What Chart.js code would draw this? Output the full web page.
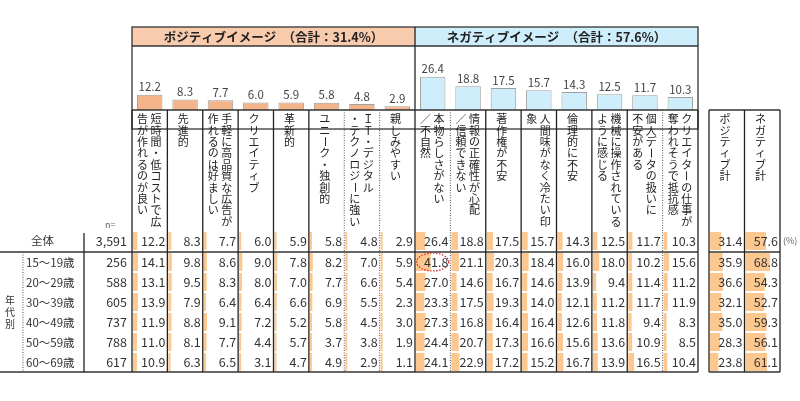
<!DOCTYPE html>
<html><head><meta charset="utf-8">
<script src="https://cdn.jsdelivr.net/npm/chart.js@4.4.0/dist/chart.umd.min.js"></script>
<style>html,body{margin:0;background:#fff}#wrap{width:800px;height:401px;position:relative}</style>
</head><body><div id="wrap"><canvas id="c"></canvas></div>
<script>
// column labels (vertical text, right line first)
var posLabels = [['短時間・低コストで広','告が作れるのが良い'], ['先進的'], ['手軽に高品質な広告が','作れるのは好ましい'], ['クリエイティブ'], ['革新的'], ['ユニーク・独創的'], ['ＩＴ・デジタル','・テクノロジーに強い'], ['親しみやすい']];
var negLabels = [['本物らしさがない','／不自然'], ['情報の正確性が心配','／信頼できない'], ['著作権が不安'], ['人間味がなく冷たい印','象'], ['倫理的に不安'], ['機械に操作されている','ように感じる'], ['個人データの扱いに','不安がある'], ['クリエイターの仕事が','奪われそうで抵抗感']];
var totalLabels = [['ポジティブ計'], ['ネガティブ計']];
var overall = [12.2, 8.3, 7.7, 6.0, 5.9, 5.8, 4.8, 2.9, 26.4, 18.8, 17.5, 15.7, 14.3, 12.5, 11.7, 10.3];
var overallTotals = [31.4, 57.6];
var overallN = '3,591';
var ageGroups = ['15～19歳', '20～29歳', '30～39歳', '40～49歳', '50～59歳', '60～69歳'];
var ageN = ['256', '588', '605', '737', '788', '617'];
var ageValues = [
  [14.1, 9.8, 8.6, 9.0, 7.8, 8.2, 7.0, 5.9, 41.8, 21.1, 20.3, 18.4, 16.0, 18.0, 10.2, 15.6],
  [13.1, 9.5, 8.3, 8.0, 7.0, 7.7, 6.6, 5.4, 27.0, 14.6, 16.7, 14.6, 13.9, 9.4, 11.4, 11.2],
  [13.9, 7.9, 6.4, 6.4, 6.6, 6.9, 5.5, 2.3, 23.3, 17.5, 19.3, 14.0, 12.1, 11.2, 11.7, 11.9],
  [11.9, 8.8, 9.1, 7.2, 5.2, 5.8, 4.5, 3.0, 27.3, 16.8, 16.4, 16.4, 12.6, 11.8, 9.4, 8.3],
  [11.0, 8.1, 7.7, 4.4, 5.7, 3.7, 3.8, 1.9, 24.4, 20.7, 17.3, 16.6, 15.6, 13.6, 10.9, 8.5],
  [10.9, 6.3, 6.5, 3.1, 4.7, 4.9, 2.9, 1.1, 24.1, 22.9, 17.2, 15.2, 16.7, 13.9, 16.5, 10.4]
];
var ageTotals = [[35.9, 68.8], [36.6, 54.3], [32.1, 52.7], [35.0, 59.3], [28.3, 56.1], [23.8, 61.1]];
var posHeader = 'ポジティブイメージ　（合計：31.4%）';
var negHeader = 'ネガティブイメージ　（合計：57.6%）';

var allLabels = posLabels.concat(negLabels);
var FONT = '"Noto Sans CJK JP", "Noto Sans", sans-serif';
var dottedAfter = [5, 6, 8, 14]; // column index whose right border is dotted

function vtext(ctx, s, x, y, step) {
  for (var i = 0; i < s.length; i++) {
    var ch = s[i], cy = y + i * step;
    if (ch === 'ー' || ch === '～' || ch === '－') {
      ctx.save(); ctx.translate(x, cy); ctx.rotate(Math.PI / 2); ctx.fillText(ch, 0, 0); ctx.restore();
    } else ctx.fillText(ch, x, cy);
  }
}

function drawLabels(ctx, lines, left, w, top) {
  ctx.font = '11px ' + FONT; ctx.fillStyle = '#222'; ctx.textAlign = 'center'; ctx.textBaseline = 'middle';
  if (lines.length === 1) vtext(ctx, lines[0], left + w * 0.45, top, 11.4);
  else { vtext(ctx, lines[0], left + w * 0.68, top, 11.4); vtext(ctx, lines[1], left + w * 0.3, top, 11.4); }
}

function vline(ctx, x, y0, y1, dotted) {
  ctx.save(); ctx.strokeStyle = dotted ? '#555' : '#222'; ctx.lineWidth = dotted ? 1 : 1.3;
  if (dotted) ctx.setLineDash([1, 1.5]);
  ctx.beginPath(); ctx.moveTo(x, y0); ctx.lineTo(x, y1); ctx.stroke(); ctx.restore();
}
function hline(ctx, x0, x1, y, w) {
  ctx.save(); ctx.strokeStyle = '#333'; ctx.lineWidth = w || 1.3;
  ctx.beginPath(); ctx.moveTo(x0, y); ctx.lineTo(x1, y); ctx.stroke(); ctx.restore();
}

var tablePlugin = {
  id: 'table',
  afterDatasetsDraw: function (chart) {
    var ctx = chart.ctx, xs = chart.scales.x, ys = chart.scales.y;
    var cw = xs.getPixelForValue(1) - xs.getPixelForValue(0);
    var L = xs.left, R = xs.right, mid = xs.getPixelForValue(7.5), base = ys.bottom;
    var tL = 709, tW = 35.5;
    var rowTop = 231, rowH = 20, sepY = 252;
    // headers
    ctx.fillStyle = '#f8cbad'; ctx.fillRect(L, 27, mid - L, 19);
    ctx.fillStyle = '#cdeefa'; ctx.fillRect(mid, 27, R - mid, 19);
    ctx.strokeStyle = '#333'; ctx.lineWidth = 1.3;
    ctx.strokeRect(L, 27, R - L, 19 + (base - 27));
    hline(ctx, L, R, 46); vline(ctx, mid, 27, base);
    ctx.font = 'bold 12.5px ' + FONT; ctx.fillStyle = '#222'; ctx.textAlign = 'center'; ctx.textBaseline = 'middle';
    ctx.fillText(posHeader, (L + mid) / 2, 37); ctx.fillText(negHeader, (mid + R) / 2, 37);
    // top bar values
    ctx.font = '11.5px ' + FONT; ctx.fillStyle = '#444'; ctx.textBaseline = 'bottom';
    overall.forEach(function (v, i) { ctx.fillText(v.toFixed(1), xs.getPixelForValue(i), ys.getPixelForValue(v) - 2); });
    // label boxes
    hline(ctx, L, R, base);
    for (var i = 0; i < 16; i++) drawLabels(ctx, allLabels[i], L + i * cw, cw, base + 9);
    hline(ctx, tL, tL + 2 * tW, base);
    for (var t = 0; t < 2; t++) drawLabels(ctx, totalLabels[t], tL + t * tW, tW, base + 9);
    // in-cell bars
    function cellBar(x, y, v, w) { ctx.fillStyle = '#fcc88f'; ctx.fillRect(x + 1, y + 1, Math.max(2, w * v / 100), rowH - 2); }
    function rowY(r) { return r < 0 ? rowTop : sepY + r * rowH; }
    var rows = [overall].concat(ageValues), trows = [overallTotals].concat(ageTotals);
    for (var r = 0; r < rows.length; r++) {
      var y = rowY(r - 1);
      for (var c = 0; c < 16; c++) cellBar(L + c * cw, y, rows[r][c], cw);
      for (var t2 = 0; t2 < 2; t2++) cellBar(tL + t2 * tW, y, trows[r][t2], tW);
    }
    // table text
    ctx.font = '12.5px ' + FONT; ctx.fillStyle = '#333'; ctx.textAlign = 'right'; ctx.textBaseline = 'middle';
    for (var r2 = 0; r2 < rows.length; r2++) {
      var yc = rowY(r2 - 1) + rowH / 2 + 0.5;
      for (var c2 = 0; c2 < 16; c2++) ctx.fillText(rows[r2][c2].toFixed(1), L + (c2 + 1) * cw - 2, yc);
      for (var t3 = 0; t3 < 2; t3++) ctx.fillText(trows[r2][t3].toFixed(1), tL + (t3 + 1) * tW - 2, yc);
      ctx.fillText(r2 === 0 ? overallN : ageN[r2 - 1], L - 5, yc);
    }
    ctx.fillStyle = '#666'; ctx.font = '9px ' + FONT; ctx.textAlign = 'left';
    ctx.fillText('(%)', tL + 2 * tW + 3, rowTop + rowH / 2);
    ctx.fillText('n=', 105, 225);
    ctx.font = '11.5px ' + FONT; ctx.fillStyle = '#333';
    ctx.fillText('全体', 31, rowTop + rowH / 2);
    ageGroups.forEach(function (g, k) { ctx.fillText(g, 26, rowY(k) + rowH / 2 + 0.5); });
    ctx.textAlign = 'center'; ctx.font = '10px ' + FONT;
    vtext(ctx, '年代別', 10, 300, 12);
    // grid lines
    var bottom = sepY + 6 * rowH;
    hline(ctx, 0, R, sepY, 1.5); hline(ctx, tL, tL + 2 * tW, sepY, 1.5);
    hline(ctx, 0, R, bottom, 1.5); hline(ctx, tL, tL + 2 * tW, bottom, 1.5);
    vline(ctx, L, base, bottom, false); vline(ctx, R, base, bottom, false);
    vline(ctx, 84, rowTop + 2, bottom, false);
    vline(ctx, 23, sepY, bottom, true);
    for (var c3 = 1; c3 < 16; c3++) vline(ctx, L + c3 * cw, base, bottom, dottedAfter.indexOf(c3 - 1) >= 0);
    vline(ctx, tL, base, bottom, false); vline(ctx, tL + tW, base, bottom, false); vline(ctx, tL + 2 * tW, base, bottom, false);
    // red highlight
    ctx.save(); ctx.strokeStyle = '#e02020'; ctx.lineWidth = 1.2; ctx.setLineDash([1.5, 1.5]);
    ctx.beginPath(); ctx.ellipse(L + 8.5 * cw, rowY(0) + rowH / 2, 16, 9, 0, 0, Math.PI * 2); ctx.stroke(); ctx.restore();
  }
};

new Chart(document.getElementById('c'), {
  type: 'bar',
  data: {
    labels: allLabels.map(function (l) { return l.join(''); }),
    datasets: [{
      data: overall,
      backgroundColor: overall.map(function (v, i) { return i < 8 ? '#f4b48a' : '#cdeefa'; }),
      borderColor: '#a0a0a0', borderWidth: 1, barPercentage: 0.72, categoryPercentage: 1
    }]
  },
  options: {
    responsive: true, maintainAspectRatio: false, animation: false,
    layout: { padding: { left: 132, right: 102, top: 47, bottom: 291 } },
    plugins: { legend: { display: false }, tooltip: { enabled: false } },
    scales: {
      x: { display: false, offset: true },
      y: { display: false, min: 0, max: 50 }
    }
  },
  plugins: [tablePlugin]
});
</script></body></html>
